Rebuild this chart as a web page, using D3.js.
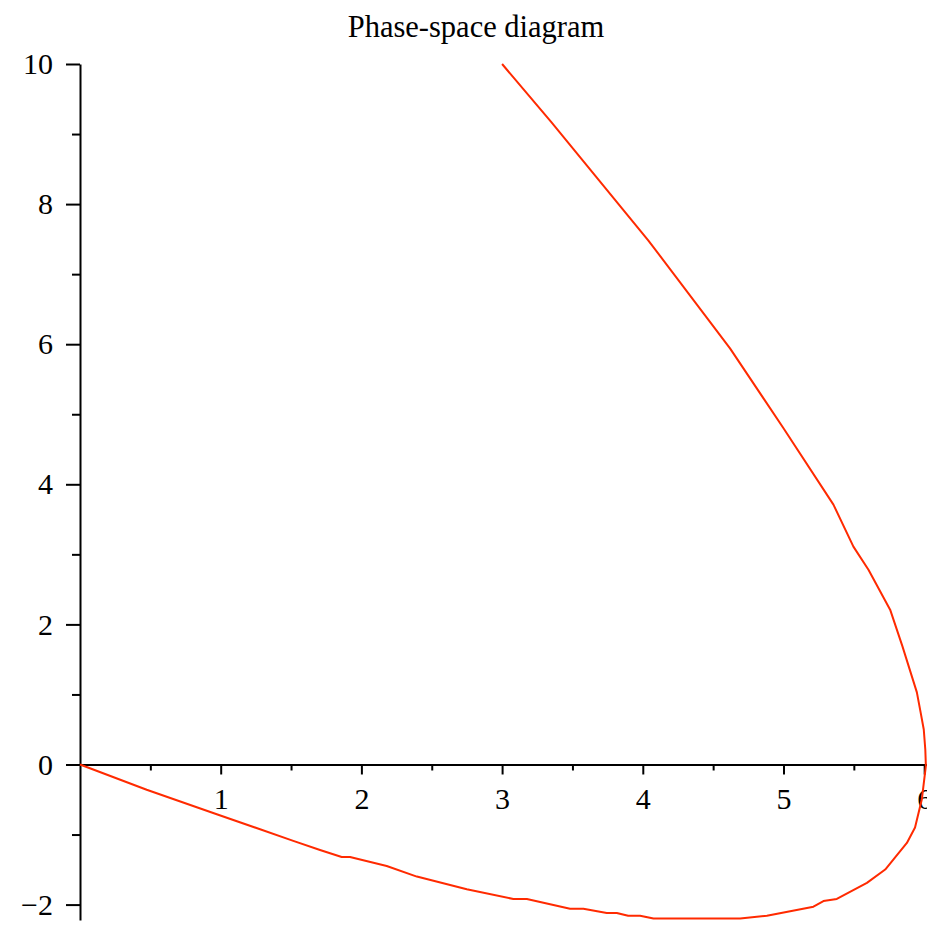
<!DOCTYPE html>
<html>
<head>
<meta charset="utf-8">
<script src="https://cdn.jsdelivr.net/npm/d3@7"></script>
<style>
    body { margin: 0; background: #fff; }
    text { font-family: "Liberation Serif", "Times New Roman", serif; fill: #000; }
    .axis path, .axis line { stroke: #000; stroke-width: 2; }
    .axis text { font-size: 30px; }
</style>
</head>
<body>
<div class="chart"></div>
<script>
// trajectory: position (x) and velocity (v)
var posX = [3.0, 3.35, 4.04, 4.62, 5.0, 5.355, 5.497, 5.604, 5.758, 5.845, 5.948, 5.975, 5.997, 6.008, 6.012,
    5.983, 5.935, 5.877, 5.723, 5.593, 5.379, 5.284, 5.213, 4.882, 4.692, 4.076, 3.981, 3.896, 3.815, 3.744,
    3.578, 3.483, 3.176, 3.08, 2.749, 2.394, 2.18, 1.919, 1.86, 1.706, 1.516, 0.972, 0.474, 0];
var velV = [10, 9.17, 7.48, 5.94, 4.80, 3.71, 3.11, 2.78, 2.21, 1.69, 1.03, 0.74, 0.50, 0.21, -0.02,
    -0.50, -0.90, -1.12, -1.50, -1.69, -1.92, -1.95, -2.03, -2.16, -2.20, -2.20, -2.16, -2.16, -2.12, -2.12,
    -2.06, -2.06, -1.92, -1.92, -1.78, -1.60, -1.45, -1.32, -1.32, -1.22, -1.09, -0.71, -0.36, 0];

var xMajor = [1, 2, 3, 4, 5, 6];
var xMinor = [0.5, 1.5, 2.5, 3.5, 4.5, 5.5];
var yMajor = [-2, 0, 2, 4, 6, 8, 10];
var yMinor = [-1, 1, 3, 5, 7, 9];

var svgWidth = 927, svgHeight = 929;

var svg = d3.select(".chart")
    .append("svg")
    .attr("width", svgWidth)
    .attr("height", svgHeight);

// scales
var xScale = d3.scaleLinear().domain([0, 6.02]).range([80, 927]);
var yScale = d3.scaleLinear().domain([-2.22, 10]).range([920, 64]);

// x axis sits on v = 0
svg.append("g")
    .attr("class", "axis")
    .attr("transform", `translate(0, ${yScale(0)})`)
    .call(d3.axisBottom(xScale).tickValues(xMinor).tickSize(6).tickSizeOuter(0).tickFormat(""))
    .select(".domain").remove();

svg.append("g")
    .attr("class", "axis")
    .attr("transform", `translate(0, ${yScale(0)})`)
    .call(d3.axisBottom(xScale).tickValues(xMajor).tickSize(10).tickSizeOuter(0).tickPadding(13).tickFormat(d3.format("d")));

// y axis at x = 0
svg.append("g")
    .attr("class", "axis")
    .attr("transform", `translate(${xScale(0)}, 0)`)
    .call(d3.axisLeft(yScale).tickValues(yMinor).tickSize(8).tickSizeOuter(0).tickFormat(""))
    .select(".domain").remove();

svg.append("g")
    .attr("class", "axis")
    .attr("transform", `translate(${xScale(0)}, 0)`)
    .call(d3.axisLeft(yScale).tickValues(yMajor).tickSize(14).tickSizeOuter(0).tickPadding(13).tickFormat(d3.format("d")));

// phase curve, drawn as a polyline like the original
var points = posX.map((d, i) => [d, velV[i]]);

var line = d3.line()
    .x(d => xScale(d[0]))
    .y(d => yScale(d[1]));

svg.append("path")
    .datum(points)
    .attr("fill", "none")
    .attr("stroke", "#ff2a00")
    .attr("stroke-width", 2)
    .attr("stroke-linejoin", "round")
    .attr("d", line);

// title
svg.append("text")
    .attr("x", 476)
    .attr("y", 37)
    .attr("text-anchor", "middle")
    .style("font-size", "30.5px")
    .text("Phase-space diagram");
</script>
</body>
</html>
